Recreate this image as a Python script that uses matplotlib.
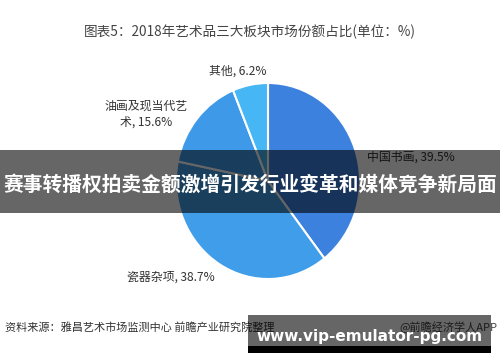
import matplotlib
matplotlib.use('Agg')
import matplotlib.pyplot as plt
from matplotlib.patches import Rectangle

plt.rcParams['font.family'] = ['Noto Sans CJK SC', 'DejaVu Sans']

# Data
categories = ['中国书画', '瓷器杂项', '油画及现当代艺术', '其他']
shares = [39.5, 38.7, 15.6, 6.2]
colors = ['#3d81de', '#409de9', '#3e99e8', '#46b6f5']

title = '图表5：2018年艺术品三大板块市场份额占比(单位：%)'
source_text = '资料来源：雅昌艺术市场监测中心 前瞻产业研究院整理'
credit_text = '@前瞻经济学人APP'
banner_text = '赛事转播权拍卖金额激增引发行业变革和媒体竞争新局面'
url_text = 'www.vip-emulator-pg.com'

W, H = 500, 362
fig = plt.figure(figsize=(W / 100, H / 100), dpi=100)

# Pie axes (pie centre ~ (268, 181) px, slightly taller than wide)
cx, cy, rx, ry = 268, 181, 92, 98
ax = fig.add_axes([(cx - rx) / W, (H - cy - ry) / H, 2 * rx / W, 2 * ry / H])
ax.pie(shares, colors=colors, startangle=90, counterclock=False,
       wedgeprops=dict(edgecolor='white', linewidth=1.5))
ax.set_aspect('auto')
ax.set_xlim(-1, 1)
ax.set_ylim(-1, 1)

# Overlay axes in pixel coordinates for texts
ov = fig.add_axes([0, 0, 1, 1], zorder=5)
ov.set_xlim(0, W)
ov.set_ylim(H, 0)
ov.axis('off')
ov.patch.set_alpha(0)

ov.text(250, 32, title, ha='center', va='center', fontsize=9.8, color='#444444')

lab_kw = dict(fontsize=8.6, color='#333333', va='center')
ov.text(238, 71, f'{categories[3]}, {shares[3]}%', ha='center', **lab_kw)
ov.text(146, 114, f'油画及现当代艺\n术, {shares[2]}%', ha='center',
        multialignment='center', linespacing=1.35, **lab_kw)
ov.text(367, 157, f'{categories[0]}, {shares[0]}%', ha='left', **lab_kw)
ov.text(127, 277, f'{categories[1]}, {shares[1]}%', ha='left', **lab_kw)

ov.text(5, 327, source_text, ha='left', va='center', fontsize=8,
        color='#333333', style='italic')
ov.text(497, 327, credit_text, ha='right', va='center', fontsize=8,
        color='#444444')

# Dark translucent banner across the middle
ov.add_patch(Rectangle((0, 150), W, 63, facecolor='black', alpha=0.6,
                       edgecolor='none', zorder=6))
ov.text(250, 185, banner_text, ha='center', va='center', fontsize=14.2,
        fontweight='bold', color='white', zorder=7)

# Bottom url banner
ov.add_patch(Rectangle((248, 315), 243, 31, facecolor='black', alpha=0.6,
                       edgecolor='none', zorder=6))
ov.add_patch(Rectangle((248, 346), 243, 7, facecolor='black',
                       edgecolor='none', zorder=6))
ov.text(370, 336, url_text, ha='center', va='center', fontsize=11,
        fontweight='bold', color='white', family='DejaVu Sans', zorder=7)

fig.savefig('out.png', dpi=100)
